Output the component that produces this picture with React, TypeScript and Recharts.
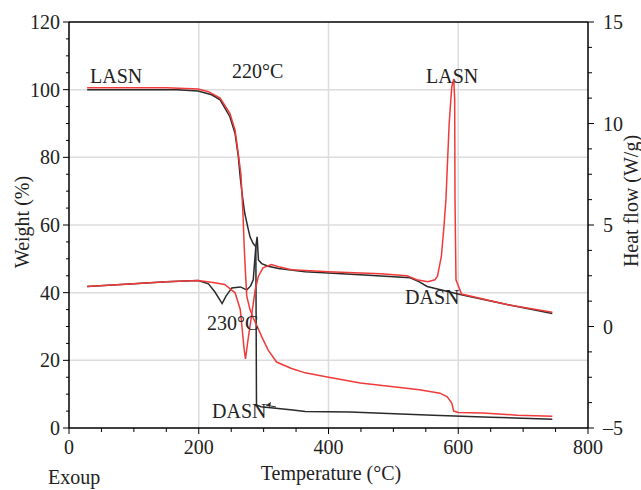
import React from "react";
import { ComposedChart, Line, XAxis, YAxis, ReferenceLine } from "recharts";

// LASN (red) and DASN (black): TGA weight (%) and DSC heat flow (W/g) vs temperature (°C)
const lasnTgaT = [28, 150, 199, 215, 233, 248, 256, 261, 265, 268, 270, 272, 274, 279, 284, 289, 297, 307, 320, 343, 364, 398, 449, 500, 540, 572, 583, 590, 593, 600, 638, 691, 745];
const lasnTgaW = [100.6, 100.6, 100.2, 99.4, 97.5, 93, 88, 81, 75, 64, 54, 46, 39, 35, 32.5, 30.5, 27, 23, 19.5, 17.6, 16.3, 15.1, 13.3, 12.2, 11.3, 10.3, 9.2, 7.4, 5, 4.6, 4.4, 3.8, 3.5];

const dasnTgaT = [28, 166, 199, 220, 233, 248, 256, 261, 264, 268, 271, 276, 279, 284, 288, 289, 296, 345, 364, 433, 561, 650, 745];
const dasnTgaW = [100, 100, 99.6, 98.5, 97, 92, 87, 80.2, 74, 67.4, 63.4, 59, 56.5, 54.5, 53.6, 6.8, 6.3, 5.3, 4.9, 4.7, 3.8, 3.2, 2.6];

const lasnDscT = [28, 100, 150, 199, 222, 240, 256, 264, 267, 270, 272, 276, 282, 287, 292, 299, 312, 323, 343, 400, 480, 521, 536, 553, 564, 568, 574, 578, 581, 586, 590, 593, 594.5, 595, 596.5, 605, 675, 745];
const lasnDscH = [1.97, 2.1, 2.2, 2.27, 2.17, 2.07, 1.66, 0.84, -0.15, -1.13, -1.6, -0.64, 0.67, 1.8, 2.48, 2.89, 3.05, 2.94, 2.8, 2.7, 2.6, 2.5, 2.3, 2.2, 2.3, 2.48, 3.46, 4.94, 6.25, 10, 11.8, 12.2, 11.2, 6.25, 2.3, 1.6, 1.08, 0.7];

const dasnDscT = [28, 100, 150, 199, 215, 225, 236, 242, 251, 264, 274, 280, 284, 288, 290, 292, 297, 307, 323, 364, 449, 526, 540, 552, 603, 675, 745];
const dasnDscH = [1.97, 2.1, 2.2, 2.27, 2.1, 1.7, 1.13, 1.5, 1.9, 1.95, 1.8, 2.0, 2.3, 3.95, 4.42, 3.28, 3.1, 2.97, 2.86, 2.7, 2.55, 2.4, 2.2, 1.97, 1.58, 1.08, 0.64];

const tempTicks = [0, 50, 100, 150, 200, 250, 300, 350, 400, 450, 500, 550, 600, 650, 700, 750, 800];
const tempLabels = [0, 200, 400, 600, 800];
const weightTicks = [0, 5, 10, 15, 20, 25, 30, 35, 40, 45, 50, 55, 60, 65, 70, 75, 80, 85, 90, 95, 100, 105, 110, 115, 120];
const weightLabels = [0, 20, 40, 60, 80, 100, 120];
const heatTicks = [-5, -3.75, -2.5, -1.25, 0, 1.25, 2.5, 3.75, 5, 6.25, 7.5, 8.75, 10, 11.25, 12.5, 13.75, 15];
const heatLabels = [-5, 0, 5, 10, 15];
const weightGrid = [20, 40, 60, 80, 100];
const tempGrid = [200, 400, 600];

const RED = "#f03a3a";
const BLACK = "#2a2a2a";
const FONT = "'Liberation Serif', 'Times New Roman', serif";

const zip = (ts: number[], vs: number[], key: string) => ts.map((t, i) => ({ t, [key]: vs[i] }));
const lasnTga = zip(lasnTgaT, lasnTgaW, "w");
const dasnTga = zip(dasnTgaT, dasnTgaW, "w");
const lasnDsc = zip(lasnDscT, lasnDscH, "h");
const dasnDsc = zip(dasnDscT, dasnDscH, "h");

const tickText = { fontFamily: FONT, fontSize: 20, fill: "#222" };

function BottomTick(props: any) {
  const { x, y, payload } = props;
  const major = tempLabels.includes(payload.value);
  return (
    <g>
      <line x1={x} x2={x} y1={y} y2={y + (major ? 6 : 4)} stroke="#000" />
      {major && (
        <text x={x} y={y + 26} textAnchor="middle" {...tickText}>{payload.value}</text>
      )}
    </g>
  );
}

function LeftTick(props: any) {
  const { x, y, payload } = props;
  const major = weightLabels.includes(payload.value);
  return (
    <g>
      <line x1={x - (major ? 6 : 3)} x2={x} y1={y} y2={y} stroke="#000" />
      {major && (
        <text x={x - 9} y={y} dy="0.35em" textAnchor="end" {...tickText}>{payload.value}</text>
      )}
    </g>
  );
}

function RightTick(props: any) {
  const { x, y, payload } = props;
  const major = heatLabels.includes(payload.value);
  const v = payload.value < 0 ? "\u2013" + Math.abs(payload.value) : String(payload.value);
  return (
    <g>
      <line x1={x} x2={x + (major ? 6 : 4)} y1={y} y2={y} stroke="#000" />
      {major && (
        <text x={x + 15} y={y} dy="0.35em" textAnchor="start" {...tickText}>{v}</text>
      )}
    </g>
  );
}

const notes = [
  { text: "LASN", x: 90, y: 83 },
  { text: "220°C", x: 232, y: 78 },
  { text: "LASN", x: 426, y: 83 },
  { text: "230°C", x: 207, y: 330 },
  { text: "DASN", x: 212, y: 418 },
  { text: "DASN", x: 405, y: 304 },
  { text: "Exoup", x: 48, y: 484 },
];

export default function App() {
  return (
    <div style={{ position: "absolute", left: 0, top: 0, width: 641, height: 490, background: "#fff" }}>
      <ComposedChart width={641} height={490} margin={{ top: 22, right: 0, bottom: 0, left: 0 }}>
        {tempGrid.map((v) => (
          <ReferenceLine key={"vx" + v} x={v} yAxisId="left" stroke="#dcdcdc" strokeWidth={1.5} />
        ))}
        {weightGrid.map((v) => (
          <ReferenceLine key={"hy" + v} y={v} yAxisId="left" stroke="#dcdcdc" strokeWidth={1.5} />
        ))}
        <ReferenceLine y={120} yAxisId="left" stroke="#000" strokeWidth={1.5} />
        <XAxis
          type="number"
          dataKey="t"
          domain={[0, 800]}
          ticks={tempTicks}
          interval={0}
          height={62}
          tickSize={0}
          tickMargin={0}
          tick={<BottomTick />}
          axisLine={{ stroke: "#000", strokeWidth: 1.5 }}
          allowDataOverflow
        />
        <YAxis
          yAxisId="left"
          orientation="left"
          type="number"
          domain={[0, 120]}
          ticks={weightTicks}
          interval={0}
          width={69}
          tickSize={0}
          tickMargin={0}
          tick={<LeftTick />}
          axisLine={{ stroke: "#000", strokeWidth: 1.5 }}
          allowDataOverflow
        />
        <YAxis
          yAxisId="right"
          orientation="right"
          type="number"
          domain={[-5, 15]}
          ticks={heatTicks}
          interval={0}
          width={53}
          tickSize={0}
          tickMargin={0}
          tick={<RightTick />}
          axisLine={{ stroke: "#000", strokeWidth: 1.5 }}
          allowDataOverflow
        />
        <Line data={dasnTga} dataKey="w" yAxisId="left" type="linear" stroke={BLACK} strokeWidth={1.5} dot={false} isAnimationActive={false} />
        <Line data={dasnDsc} dataKey="h" yAxisId="right" type="linear" stroke={BLACK} strokeWidth={1.5} dot={false} isAnimationActive={false} />
        <Line data={lasnTga} dataKey="w" yAxisId="left" type="linear" stroke={RED} strokeWidth={1.5} dot={false} isAnimationActive={false} />
        <Line data={lasnDsc} dataKey="h" yAxisId="right" type="linear" stroke={RED} strokeWidth={1.5} dot={false} isAnimationActive={false} />
      </ComposedChart>
      <svg width={641} height={490} style={{ position: "absolute", left: 0, top: 0, pointerEvents: "none" }}>
        {notes.map((n, i) => (
          <text key={i} x={n.x} y={n.y} fontFamily={FONT} fontSize={20} fill="#222">{n.text}</text>
        ))}
        <line x1={276} y1={407} x2={266} y2={405} stroke={BLACK} strokeWidth={1} />
        <path d="M266,405 L271,402 L270,407 Z" fill={BLACK} />
        <text x={331} y={480} textAnchor="middle" fontFamily={FONT} fontSize={20} fill="#222">Temperature (°C)</text>
        <text x={22} y={222} transform="rotate(-90 22 222)" textAnchor="middle" dominantBaseline="central" fontFamily={FONT} fontSize={20} fill="#222">Weight (%)</text>
        <text x={631} y={201} transform="rotate(-90 631 201)" textAnchor="middle" dominantBaseline="central" fontFamily={FONT} fontSize={20} fill="#222">Heat flow (W/g)</text>
      </svg>
    </div>
  );
}
